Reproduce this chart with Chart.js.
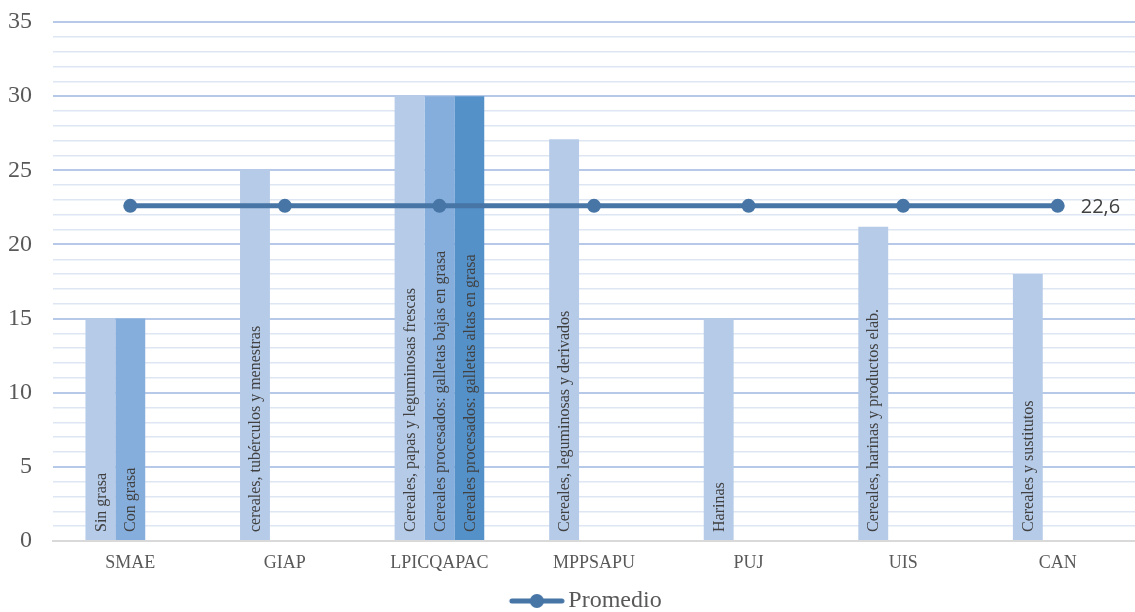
<!DOCTYPE html>
<html>
<head>
<meta charset="utf-8">
<script src="https://cdn.jsdelivr.net/npm/chart.js@4/dist/chart.umd.min.js"></script>
<style>
  html, body { margin: 0; padding: 0; background: #ffffff; }
  #wrap { width: 1135px; height: 612px; }
</style>
</head>
<body>
<div id="wrap"><canvas id="chart" width="1135" height="612"></canvas></div>
<script>
// Categories (sources) along the x axis
const categories = ['SMAE', 'GIAP', 'LPICQAPAC', 'MPPSAPU', 'PUJ', 'UIS', 'CAN'];

// Bar values per group slot
const serie1 = [15, 25, 30, 27.1, 15, 21.2, 18];
const serie2 = [15, null, 30, null, null, null, null];
const serie3 = [null, null, 30, null, null, null, null];

// Average line
const promedio = [22.6, 22.6, 22.6, 22.6, 22.6, 22.6, 22.6];
const promedioLabel = '22,6';

// Text written inside each bar
const textos1 = ['Sin grasa', 'cereales, tubérculos y menestras', 'Cereales, papas y leguminosas frescas',
  'Cereales, leguminosas y derivados', 'Harinas', 'Cereales, harinas y productos elab.', 'Cereales y sustitutos'];
const textos2 = ['Con grasa', null, 'Cereales procesados: galletas bajas en grasa', null, null, null, null];
const textos3 = [null, null, 'Cereales procesados: galletas altas en grasa', null, null, null, null];

// Y axis range and labelled ticks
const yMin = 0, yMax = 35, yLabelStep = 5;

const SERIF = '"Liberation Serif", "Times New Roman", serif';
const LINE_COLOR = '#4675A6';

// Legend symbol: short line with a dot, drawn in the right part of a wider
// transparent canvas so the symbol sits close to the legend text
function legendSymbol() {
  const c = document.createElement('canvas');
  c.width = 94; c.height = 18;
  const g = c.getContext('2d');
  g.strokeStyle = LINE_COLOR; g.lineWidth = 5; g.lineCap = 'round';
  g.beginPath(); g.moveTo(41, 9); g.lineTo(91, 9); g.stroke();
  g.fillStyle = LINE_COLOR;
  g.beginPath(); g.arc(66, 9, 7, 0, Math.PI * 2); g.fill();
  return c;
}

const barTexts = [textos1, textos2, textos3];

const barTextPlugin = {
  id: 'barTexts',
  afterDatasetsDraw(chart) {
    const ctx = chart.ctx;
    ctx.save();
    ctx.font = '16px ' + SERIF;
    ctx.fillStyle = '#404040';
    ctx.textAlign = 'left';
    ctx.textBaseline = 'middle';
    chart.data.datasets.forEach((ds, di) => {
      if (ds.textIndex === undefined) return;
      const meta = chart.getDatasetMeta(di);
      const texts = barTexts[ds.textIndex];
      meta.data.forEach((bar, i) => {
        const t = texts[i];
        if (!t || ds.data[i] == null) return;
        ctx.save();
        ctx.translate(bar.x + 1, bar.base - 8);
        ctx.rotate(-Math.PI / 2);
        ctx.fillText(t, 0, 0);
        ctx.restore();
      });
    });
    // value label after the last point of the average line
    const li = chart.data.datasets.findIndex(d => d.type === 'line');
    const pts = chart.getDatasetMeta(li).data;
    const last = pts[pts.length - 1];
    ctx.font = '20px "Open Sans", sans-serif';
    ctx.fillStyle = '#404040';
    ctx.fillText(promedioLabel, last.x + 23, last.y + 1);
    ctx.restore();
  }
};

new Chart(document.getElementById('chart'), {
  type: 'bar',
  data: {
    labels: categories,
    datasets: [
      {
        type: 'line', label: 'Promedio', data: promedio,
        borderColor: LINE_COLOR, backgroundColor: LINE_COLOR,
        borderWidth: 5, pointRadius: 7, pointHoverRadius: 7,
        pointBackgroundColor: LINE_COLOR, pointBorderWidth: 0, order: 0
      },
      { label: 's1', data: serie1, backgroundColor: '#B6CBE8', textIndex: 0, order: 1 },
      { label: 's2', data: serie2, backgroundColor: '#86AEDC', textIndex: 1, order: 1 },
      { label: 's3', data: serie3, backgroundColor: '#5591C9', textIndex: 2, order: 1 }
    ]
  },
  options: {
    responsive: false,
    animation: false,
    events: [],
    categoryPercentage: 0.58,
    barPercentage: 1.0,
    layout: { autoPadding: false, padding: { top: 22, right: -6, left: 0, bottom: -11 } },
    plugins: {
      tooltip: { enabled: false },
      legend: {
        position: 'bottom',
        labels: {
          usePointStyle: true,
          pointStyleWidth: 77,
          boxHeight: 18,
          padding: 2,
          color: '#595959',
          font: { family: SERIF, size: 24 },
          generateLabels: () => [{
            text: 'Promedio', pointStyle: legendSymbol(), fillStyle: LINE_COLOR,
            strokeStyle: LINE_COLOR, lineWidth: 0, hidden: false, datasetIndex: 0, fontColor: '#595959'
          }]
        }
      }
    },
    scales: {
      x: {
        grid: { display: false, drawTicks: false },
        border: { display: true, color: '#D9D9D9', width: 2 },
        ticks: { color: '#595959', font: { family: SERIF, size: 18 }, padding: 11, maxRotation: 0 },
        afterFit: (s) => { s.height = 46; s.paddingLeft = 0; s.paddingRight = 0; }
      },
      y: {
        min: yMin, max: yMax,
        border: { display: false },
        grid: {
          drawTicks: false,
          color: (c) => c.tick.value === 0 ? 'rgba(0,0,0,0)' : (c.tick.value % yLabelStep === 0 ? '#B7C9E8' : '#DEE6F4'),
          lineWidth: (c) => c.tick.value % yLabelStep === 0 ? 2 : 1.5
        },
        ticks: {
          stepSize: 1,
          autoSkip: false,
          padding: 21,
          color: '#595959',
          font: { family: SERIF, size: 24 },
          callback: (v) => v % yLabelStep === 0 ? String(v) : ''
        },
        afterFit: (s) => { s.width = 53; s.paddingTop = 0; s.paddingBottom = 0; }
      }
    }
  },
  plugins: [barTextPlugin]
});
</script>
</body>
</html>
